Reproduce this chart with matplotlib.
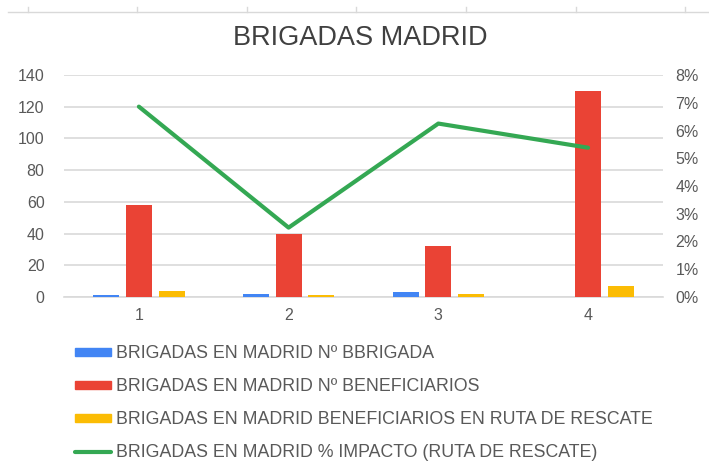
import matplotlib.pyplot as plt
import matplotlib.lines as mlines
import matplotlib.patches as mpatches
import numpy as np

plt.rcParams['font.family'] = ['Liberation Sans', 'DejaVu Sans']

# data
categories = ['1', '2', '3', '4']
n_brigada = [1, 2, 3, 0]
n_beneficiarios = [58, 40, 32, 130]
ben_ruta = [4, 1, 2, 7]
impacto = [0.0686, 0.025, 0.0625, 0.0538]

labels = ['BRIGADAS EN MADRID Nº BBRIGADA',
          'BRIGADAS EN MADRID Nº BENEFICIARIOS',
          'BRIGADAS EN MADRID BENEFICIARIOS EN RUTA DE RESCATE',
          'BRIGADAS EN MADRID % IMPACTO (RUTA DE RESCATE)']

blue = '#4285F4'
red = '#EA4335'
yellow = '#FBBC04'
green = '#34A853'
txt = '#595959'

fig = plt.figure(figsize=(7.09, 4.65), dpi=100)
ax = fig.add_axes([0.0903, 0.3613, 0.8447, 0.4774])
ax2 = ax.twinx()

x = np.arange(len(categories))
w = 0.174
off = 0.219
ax.bar(x - off, n_brigada, w, color=blue, zorder=3)
ax.bar(x, n_beneficiarios, w, color=red, zorder=3)
ax.bar(x + off, ben_ruta, w, color=yellow, zorder=3)
ax2.plot(x, impacto, color=green, lw=3, solid_capstyle='round', solid_joinstyle='round')

ax.set_xlim(-0.5, 3.5)
ax.set_ylim(0, 140)
ax.set_yticks(range(0, 141, 20))
ax2.set_ylim(0, 0.08)
ax2.set_yticks(np.arange(0, 0.081, 0.01))
ax2.set_yticklabels(['%d%%' % i for i in range(9)])
ax.set_xticks(x)
ax.set_xticklabels(categories)

ax.grid(axis='y', color='#d9d9d9', lw=1.2, zorder=0)
for a in (ax, ax2):
    for s in a.spines.values():
        s.set_visible(False)
    a.tick_params(length=0, labelsize=11.5, colors=txt)
ax.tick_params(axis='y', pad=14)
ax2.tick_params(axis='y', pad=9)
ax.tick_params(axis='x', pad=8)
ax.spines['bottom'].set_visible(True)
ax.spines['bottom'].set_color('#d9d9d9')
ax.spines['bottom'].set_linewidth(1.2)

fig.text(0.508, 0.918, 'BRIGADAS MADRID', ha='center', va='center',
         fontsize=19.5, color='#404040')

# cell border remnant at the top
fig.add_artist(mlines.Line2D([0.011, 1.0], [0.974, 0.974], color='#d9d9d9', lw=1))
for tx in [28, 137, 247, 356, 466, 576, 685]:
    fig.add_artist(mlines.Line2D([tx / 709, tx / 709], [0.974, 0.985], color='#d9d9d9', lw=1))

handles = [mpatches.Patch(color=blue),
           mpatches.Patch(color=red),
           mpatches.Patch(color=yellow),
           mlines.Line2D([], [], color=green, lw=3, solid_capstyle='round')]
leg = fig.legend(handles, labels, loc='upper left', bbox_to_anchor=(0.106, 0.258),
                 frameon=False, fontsize=12.8, handlelength=2.0, handleheight=0.3,
                 handletextpad=0.3, labelspacing=0.9, borderpad=0, borderaxespad=0)
for t in leg.get_texts():
    t.set_color(txt)

fig.savefig('out.png', dpi=100, facecolor='white')
